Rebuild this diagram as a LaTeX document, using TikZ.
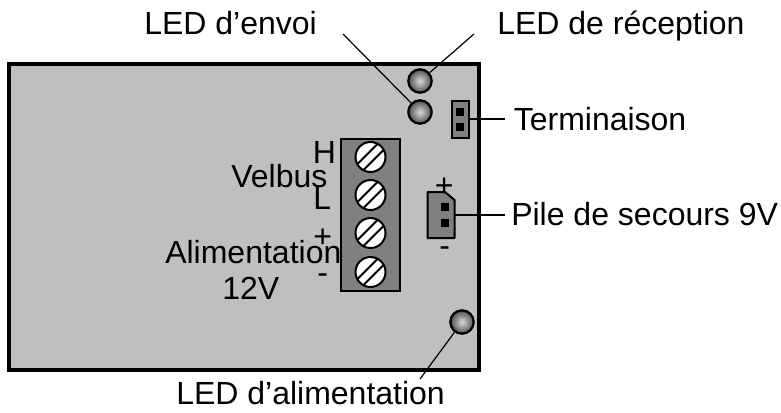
\documentclass[tikz,border=0pt]{standalone}
\usepackage{fontspec}
\setmainfont{Liberation Sans}
\definecolor{boardgray}{gray}{0.75}
\definecolor{blockgray}{gray}{0.5}
\newcommand{\lbl}{\fontsize{24pt}{28pt}\selectfont}
\tikzset{
  board/.style={draw=black,fill=boardgray,line width=3pt},
  part/.style={draw=black,fill=blockgray,line width=1.5pt},
  pin/.style={fill=black},
  ledd/.style={circle,draw=black,line width=1.7pt,minimum size=17.5pt,inner sep=0pt,inner color=gray!30!white,outer color=black!68},
  screw/.style={circle,draw=black,fill=white,line width=1.5pt,minimum size=22.5pt,inner sep=0pt},
  wire/.style={draw=black,line width=0.9pt},
  lab/.style={font=\lbl,inner sep=0pt,anchor=base west,text=black}
}
\begin{document}
\begin{tikzpicture}[x=0.75pt,y=-0.75pt]
\useasboundingbox (0,0) rectangle (781,412);
\fill[white] (0,0) rectangle (781,412);
\draw[board] (9,64) rectangle (479,370);
% terminal block
\draw[part] (341,139) rectangle (400,291);
\foreach \n/\y in {a/157,b/195,c/233,d/272}{
  \node[screw] (s\n) at (370.5,\y) {};
  \begin{scope}
    \clip (370.5,\y) circle (14.5);
    \draw[black,line width=1.5pt] (350.5,\y+14) -- (384.5,\y-20);
    \draw[black,line width=1.5pt] (356.5,\y+20) -- (390.5,\y-14);
  \end{scope}
}
% jumper
\draw[part] (451.5,101) rectangle (469,138);
\fill[pin] (456,108) rectangle (464,116);
\fill[pin] (456,123) rectangle (464,131);
% battery connector
\draw[part,line join=round] (427.5,192) -- (445,192) -- (454.5,200) -- (454.5,238) -- (427.5,238) -- cycle;
\fill[pin] (441,203) rectangle (449,211);
\fill[pin] (441,219) rectangle (449,227);
% LEDs
\node[ledd] (ledrx) at (420,81) {};
\node[ledd] (ledtx) at (420,112) {};
\node[ledd] (ledpw) at (462,322) {};
% labels
\node[lab] (tenvoi) at (144,34) {LED d’envoi};
\node[lab] (trecep) at (497,34) {LED de réception};
\node[lab] (tterm) at (513.5,130) {Terminaison};
\node[lab] (tpile) at (511,225) {Pile de secours 9V};
\node[lab] (talim) at (176,404) {LED d’alimentation};
\node[lab] (tvel) at (231,187) {Velbus};
\node[lab] (talimb) at (165,263) {Alimentation};
\node[lab] (t12) at (222,299) {12V};
\node[lab] (th) at (312.5,163) {H};
\node[lab] (tl) at (313,209) {L};
\node[lab] (tp) at (313,247.5) {+};
\node[lab] (tm) at (317,283) {-};
\node[lab] (bp) at (434.7,196) {+};
\node[lab] (bm) at (439,256) {-};
% connectors
\coordinate (c1) at (343,34);
\coordinate (c2) at (474,34);
\coordinate (c3) at (505,119);
\coordinate (c4) at (505,215);
\coordinate (c5) at (420,379);
\draw[wire] (c1) -- (ledtx);
\draw[wire] (c2) -- (ledrx);
\draw[wire] (c3) -- (469,119);
\draw[wire] (c4) -- (454.5,215);
\draw[wire] (c5) -- (ledpw);
\end{tikzpicture}
\end{document}
